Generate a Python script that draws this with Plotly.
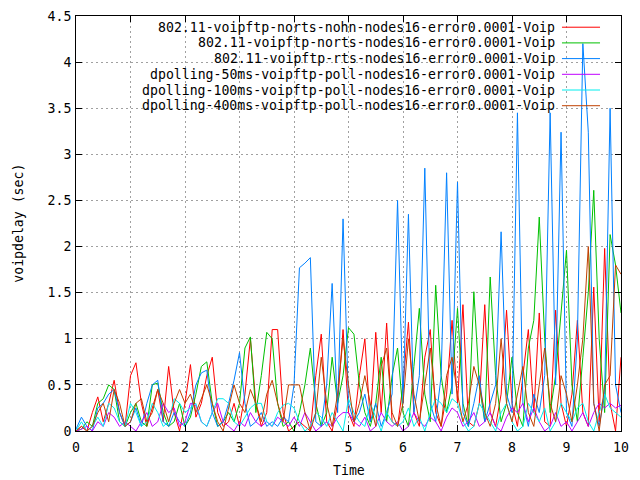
import plotly.graph_objects as go

times = [round(i * 0.1, 1) for i in range(101)]

names = [
    "802.11-voipftp-norts-nohn-nodes16-error0.0001-Voip",
    "802.11-voipftp-norts-nodes16-error0.0001-Voip",
    "802.11-voipftp-rts-nodes16-error0.0001-Voip",
    "dpolling-50ms-voipftp-poll-nodes16-error0.0001-Voip",
    "dpolling-100ms-voipftp-poll-nodes16-error0.0001-Voip",
    "dpolling-400ms-voipftp-poll-nodes16-error0.0001-Voip",
]
colors = ["#ff0000", "#00c000", "#0080ff", "#c000ff", "#00eeee", "#c04000"]

red = [0, 0.05, 0.0, 0.2, 0.37, 0.1, 0.3, 0.55, 0.2, 0.05,
       0.6, 0.74, 0.3, 0.05, 0.25, 0.45, 0.1, 0.7, 0.2, 0.0,
       0.3, 0.72, 0.15, 0.3, 0.6, 0.8, 0.2, 0.05, 0.1, 0.3,
       0.05, 0.4, 1.0, 0.3, 0.05, 0.2, 1.1, 1.1, 0.2, 0.0,
       0.05, 0.1, 0.05, 0.0, 0.6, 1.05, 0.1, 0.0, 0.3, 1.1,
       0.2, 0.05, 0.6, 1.0, 0.1, 1.07, 0.2, 1.17, 0.1, 0.05,
       0.5, 1.18, 0.2, 0.05, 0.8, 1.1, 0.2, 0.05, 0.4, 1.2,
       0.3, 1.37, 0.1, 0.05, 0.3, 1.37, 0.2, 0.05, 0.4, 1.31,
       0.3, 0.05, 0.6, 1.1, 0.2, 1.28, 0.1, 0.05, 1.31, 0.3,
       0.05, 0.4, 1.2, 0.2, 0.05, 1.56, 0.1, 1.98, 0.3, 0.0,
       0.8]

green = [0, 0.02, 0.1, 0.05, 0.3, 0.35, 0.5, 0.45, 0.1, 0.05,
         0.2, 0.3, 0.1, 0.05, 0.5, 0.52, 0.2, 0.05, 0.1, 0.3,
         0.05, 0.15, 0.4, 0.7, 0.75, 0.3, 0.05, 0.1, 0.2, 0.1,
         0.3, 0.9, 1.02, 0.2, 0.6, 1.07, 1.0, 0.3, 0.05, 0.1,
         0.0, 0.2, 0.5, 0.9, 0.3, 0.05, 0.2, 0.8, 0.3, 0.6,
         1.12, 1.05, 0.5, 0.2, 0.05, 0.3, 0.8, 0.1, 0.6, 0.9,
         0.2, 0.05, 0.7, 1.33, 0.4, 0.1, 1.58, 0.6, 0.2, 0.5,
         1.33, 0.3, 0.05, 1.51, 0.5, 0.1, 1.67, 0.6, 0.1, 0.3,
         0.8, 0.2, 0.05, 0.9, 1.2, 2.32, 1.0, 0.2, 0.6, 1.3,
         1.96, 0.5, 0.1, 0.8, 1.5, 2.61, 1.0, 0.2, 2.13, 1.8,
         1.28]

blue = [0.02, 0.15, 0.05, 0.0, 0.25, 0.3, 0.4, 0.45, 0.2, 0.05,
        0.1, 0.25, 0.05, 0.3, 0.5, 0.55, 0.1, 0.05, 0.2, 0.1,
        0.05, 0.2, 0.5, 0.63, 0.66, 0.2, 0.05, 0.1, 0.3, 0.55,
        0.85, 0.3, 0.05, 0.1, 0.2, 0.05, 0.1, 0.05, 0.15, 0.1,
        0.5, 1.77, 1.82, 1.88, 0.1, 0.05, 0.5, 1.6, 0.2, 2.3,
        0.3, 0.1, 0.2, 0.4, 0.1, 0.3, 0.05, 0.2, 0.4, 2.5,
        0.3, 2.35, 0.2, 0.6, 2.85, 0.3, 0.1, 0.6, 2.8, 0.4,
        2.7, 0.2, 0.05, 0.3, 0.6, 0.1, 0.3, 0.5, 2.16, 0.4,
        0.2, 3.45, 0.3, 0.05, 0.4, 0.2, 0.6, 3.45, 0.5, 3.24,
        0.2, 0.05, 1.0, 4.2, 3.24, 0.3, 0.05, 0.4, 3.5, 0.5,
        0.2]

magenta = [0, 0.02, 0.05, 0.0, 0.1, 0.05, 0.2, 0.15, 0.05, 0.1,
           0.05, 0.0, 0.1, 0.2, 0.05, 0.1, 0.3, 0.2, 0.25, 0.05,
           0.1, 0.3, 0.28, 0.1, 0.05, 0.2, 0.3, 0.1, 0.05, 0.0,
           0.1, 0.05, 0.2, 0.1, 0.05, 0.1, 0.05, 0.15, 0.1, 0.05,
           0.15, 0.05, 0.2, 0.1, 0.0, 0.05, 0.1, 0.05, 0.15, 0.2,
           0.2, 0.1, 0.05, 0.15, 0.0, 0.05, 0.2, 0.1, 0.05, 0.1,
           0.0, 0.05, 0.2, 0.1, 0.05, 0.15, 0.1, 0.0, 0.15, 0.25,
           0.2, 0.05, 0.1, 0.2, 0.05, 0.1, 0.2, 0.05, 0.0, 0.15,
           0.25, 0.2, 0.3, 0.1, 0.25, 0.1, 0.0, 0.05, 0.2, 0.05,
           0.1, 0.0, 0.1, 0.2, 0.05, 0.2, 0.3, 0.25, 0.3, 0.25,
           0.28]

cyan = [0.0, 0.1, 0.0, 0.05, 0.15, 0.05, 0.3, 0.25, 0.1, 0.05,
        0.3, 0.2, 0.05, 0.1, 0.3, 0.2, 0.05, 0.1, 0.35, 0.3,
        0.2, 0.25, 0.3, 0.1, 0.05, 0.2, 0.35, 0.35, 0.3, 0.1,
        0.05, 0.15, 0.25, 0.3, 0.3, 0.1, 0.05, 0.2, 0.28, 0.3,
        0.25, 0.1, 0.0, 0.05, 0.2, 0.15, 0.05, 0.2, 0.1, 0.0,
        0.35, 0.2, 0.1, 0.05, 0.3, 0.15, 0.0, 0.2, 0.1, 0.05,
        0.1, 0.25, 0.05, 0.15, 0.0, 0.2, 0.35, 0.3, 0.2, 0.35,
        0.3, 0.1, 0.0, 0.05, 0.3, 0.2, 0.1, 0.0, 0.2, 0.3,
        0.1, 0.0, 0.05, 0.3, 0.2, 0.1, 0.25, 0.0, 0.1, 0.3,
        0.2, 0.1, 0.25, 0.3, 0.1, 0.0, 0.2, 0.4, 0.25, 0.2,
        0.15]

brown = [0.0, 0.05, 0.0, 0.05, 0.2, 0.3, 0.1, 0.45, 0.3, 0.05,
         0.1, 0.3, 0.35, 0.1, 0.2, 0.45, 0.3, 0.1, 0.3, 0.45,
         0.3, 0.4, 0.2, 0.35, 0.5, 0.3, 0.1, 0.0, 0.25, 0.5,
         0.3, 0.2, 0.45, 0.3, 0.1, 0.4, 0.55, 0.3, 0.1, 0.5,
         0.5, 0.5, 0.2, 0.0, 0.2, 0.8, 0.3, 0.05, 0.4, 1.0,
         0.5, 0.1, 0.3, 0.6, 0.3, 0.05, 0.7, 0.9, 0.2, 0.05,
         0.3, 1.0, 0.4, 0.1, 0.5, 0.9, 0.3, 0.05, 0.6, 0.8,
         0.4, 0.1, 0.3, 0.7, 0.5, 0.2, 0.05, 0.3, 1.0, 0.3,
         0.1, 0.4, 0.7, 0.2, 0.05, 0.5, 0.9, 0.3, 0.1, 0.6,
         0.4, 0.1, 0.5, 1.0, 2.0, 0.3, 0.0, 0.5, 0.6, 1.8,
         1.7]

series = [red, green, blue, magenta, cyan, brown]

x_ticks = [0, 1, 2, 3, 4, 5, 6, 7, 8, 9, 10]
y_ticks = [0, 0.5, 1, 1.5, 2, 2.5, 3, 3.5, 4, 4.5]
y_tick_text = ["0", "0.5", "1", "1.5", "2", "2.5", "3", "3.5", "4", "4.5"]
x_title = "Time"
y_title = "voipdelay (sec)"

FONT = "DejaVu Sans Mono"
FS = 13.2

fig = go.Figure()
for name, col, vals in zip(names, colors, series):
    fig.add_trace(go.Scatter(x=times, y=vals, mode="lines", name=name,
                             line=dict(color=col, width=1), showlegend=False))

# gnuplot-style key: right-aligned text with line sample on the right
row_h = 15.7 / 415
for i, (name, col) in enumerate(zip(names, colors)):
    yy = 0.973 - i * row_h
    fig.add_annotation(x=0.8826, y=yy, xref="paper", yref="paper", text=name,
                       showarrow=False, xanchor="right", yanchor="middle",
                       font=dict(family=FONT, size=FS, color="black"))
    fig.add_shape(type="line", xref="paper", yref="paper", x0=0.8917, x1=0.9615,
                  y0=yy, y1=yy, line=dict(color=col, width=1))

# axis titles
fig.add_annotation(x=0.5, y=-0.094, xref="paper", yref="paper", text=x_title,
                   showarrow=False, xanchor="center", yanchor="middle",
                   font=dict(family=FONT, size=FS, color="black"))
fig.add_annotation(x=-0.106, y=0.5, xref="paper", yref="paper", text=y_title,
                   showarrow=False, xanchor="center", yanchor="middle", textangle=-90,
                   font=dict(family=FONT, size=FS, color="black"))

axis_common = dict(showline=True, linecolor="black", linewidth=1, mirror="ticks",
                   ticks="inside", ticklen=6, tickcolor="black", automargin=False,
                   showgrid=True, gridcolor="#a0a0a0", griddash="2px,3px", gridwidth=1,
                   zeroline=False, tickfont=dict(family=FONT, size=FS, color="black"))

fig.update_layout(
    width=640, height=480,
    margin=dict(l=76, r=19, t=16, b=49),
    paper_bgcolor="white", plot_bgcolor="white",
    xaxis=dict(range=[0, 10], tickvals=x_ticks, ticklabelstandoff=4, **axis_common),
    yaxis=dict(range=[0, 4.5], tickvals=y_ticks, ticktext=y_tick_text,
               ticklabelstandoff=1, **axis_common),
)

fig.write_html("out.html")
